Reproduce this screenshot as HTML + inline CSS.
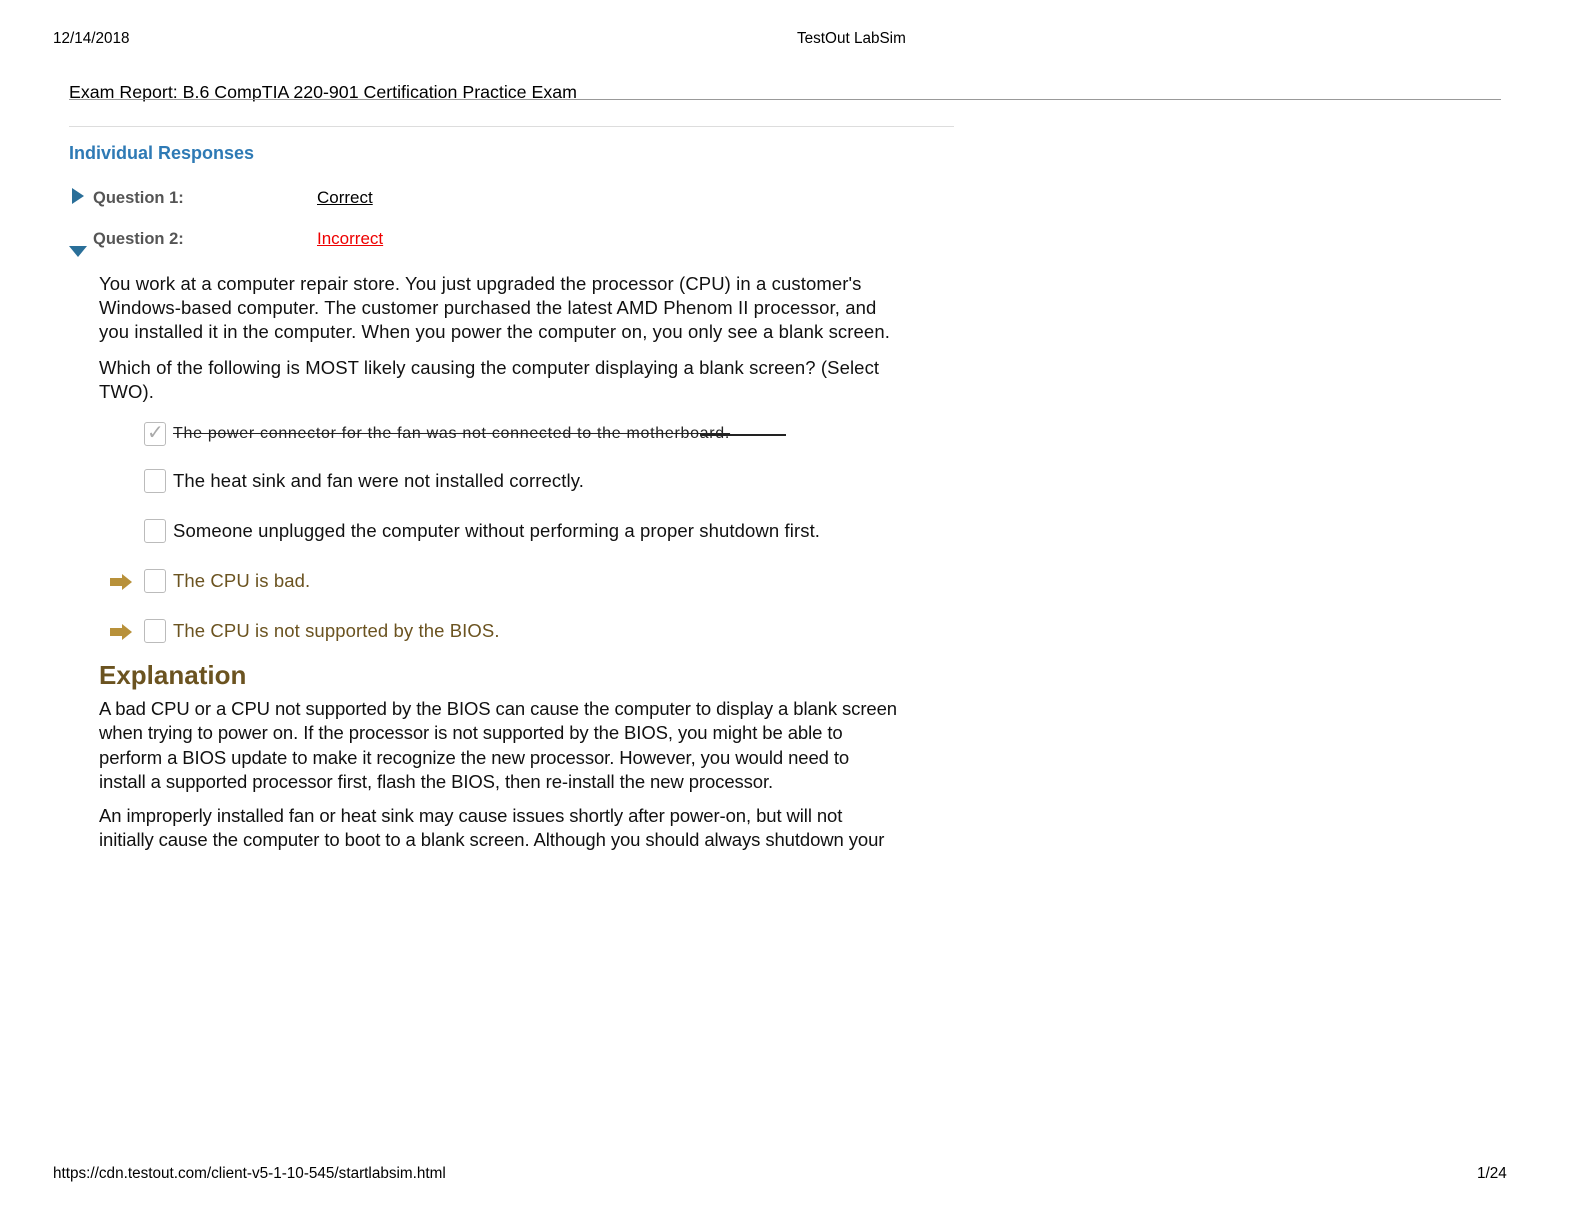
<!DOCTYPE html>
<html><head><meta charset="utf-8"><style>
body{margin:0;width:1584px;height:1224px;background:#fff;position:relative;font-family:"Liberation Sans",sans-serif;overflow:hidden}
.a{position:absolute;white-space:nowrap}
.h{font-size:15.3px;color:#000}
.t{font-size:18.5px;color:#111;letter-spacing:0.1px}
.q{font-size:16.5px;font-weight:bold;color:#555}
.cb{position:absolute;width:20px;height:22px;border:1px solid #bbb;border-radius:3px;background:#fff}
.g{color:#6b5320}
.arr{position:absolute;width:24px;height:16px}
</style></head><body>
<div class="a h" style="left:53px;top:30px">12/14/2018</div>
<div class="a h" style="left:797px;top:30px">TestOut LabSim</div>
<div class="a" style="left:69px;top:82px;font-size:17.8px">Exam Report: B.6 CompTIA 220-901 Certification Practice Exam</div>
<div class="a" style="left:69px;top:99px;width:1432px;height:1px;background:#999"></div>
<div class="a" style="left:69px;top:126px;width:885px;height:1px;background:#ddd"></div>
<div class="a" style="left:69px;top:143px;font-size:18px;font-weight:bold;color:#2e7ab5">Individual Responses</div>
<svg class="a" style="left:72px;top:188px" width="14" height="18"><polygon points="0,0 12,8 0,16" fill="#2a6f99"/></svg>
<div class="a q" style="left:93px;top:189px">Question 1:</div>
<div class="a" style="left:317px;top:188px;font-size:17px;text-decoration:underline">Correct</div>
<svg class="a" style="left:69px;top:246px" width="20" height="12"><polygon points="0,0 18,0 9,11" fill="#2a6f99"/></svg>
<div class="a q" style="left:93px;top:230px">Question 2:</div>
<div class="a" style="left:317px;top:229px;font-size:17px;text-decoration:underline;color:#e00">Incorrect</div>
<div class="a t" style="left:99px;top:272px;line-height:24px">You work at a computer repair store. You just upgraded the processor (CPU) in a customer's<br>Windows-based computer. The customer purchased the latest AMD Phenom II processor, and<br>you installed it in the computer. When you power the computer on, you only see a blank screen.</div>
<div class="a t" style="left:99px;top:356px;line-height:24px">Which of the following is MOST likely causing the computer displaying a blank screen? (Select<br>TWO).</div>
<div class="cb" style="left:144px;top:422px"></div>
<div class="a" style="left:147px;top:420px;font-size:20px;color:#aaa">✓</div>
<div class="a" style="left:173px;top:425px;font-size:16px;letter-spacing:0.7px;color:#222;text-decoration:line-through">The power connector for the fan was not connected to the  motherboard.</div>
<div class="a" style="left:700px;top:434px;width:86px;height:1.5px;background:#222"></div>
<div class="cb" style="left:144px;top:469px"></div>
<div class="a t" style="left:173px;top:470px">The heat sink and fan were not installed correctly.</div>
<div class="cb" style="left:144px;top:519px"></div>
<div class="a t" style="left:173px;top:520px">Someone unplugged the computer without performing a proper shutdown first.</div>
<svg class="arr" style="left:110px;top:574px"><polygon points="0,4 12,4 12,0 22,8 12,16 12,12 0,12" fill="#b8913a"/></svg>
<div class="cb" style="left:144px;top:569px"></div>
<div class="a t g" style="left:173px;top:570px">The CPU is bad.</div>
<svg class="arr" style="left:110px;top:624px"><polygon points="0,4 12,4 12,0 22,8 12,16 12,12 0,12" fill="#b8913a"/></svg>
<div class="cb" style="left:144px;top:619px"></div>
<div class="a t g" style="left:173px;top:620px">The CPU is not supported by the BIOS.</div>
<div class="a" style="left:99px;top:660px;font-size:26px;font-weight:bold;color:#6b5320">Explanation</div>
<div class="a t" style="left:99px;top:697px;line-height:24.3px;letter-spacing:-0.1px">A bad CPU or a CPU not supported by the BIOS can cause the computer to display a blank screen<br>when trying to power on. If the processor is not supported by the BIOS, you might be able to<br>perform a BIOS update to make it recognize the new processor. However, you would need to<br>install a supported processor first, flash the BIOS, then re-install the new processor.</div>
<div class="a t" style="left:99px;top:804px;line-height:24px;letter-spacing:-0.1px">An improperly installed fan or heat sink may cause issues shortly after power-on, but will not<br>initially cause the computer to boot to a blank screen. Although you should always shutdown your</div>
<div class="a h" style="left:53px;top:1165px">https://cdn.testout.com/client-v5-1-10-545/startlabsim.html</div>
<div class="a h" style="left:1477px;top:1165px">1/24</div>
</body></html>
